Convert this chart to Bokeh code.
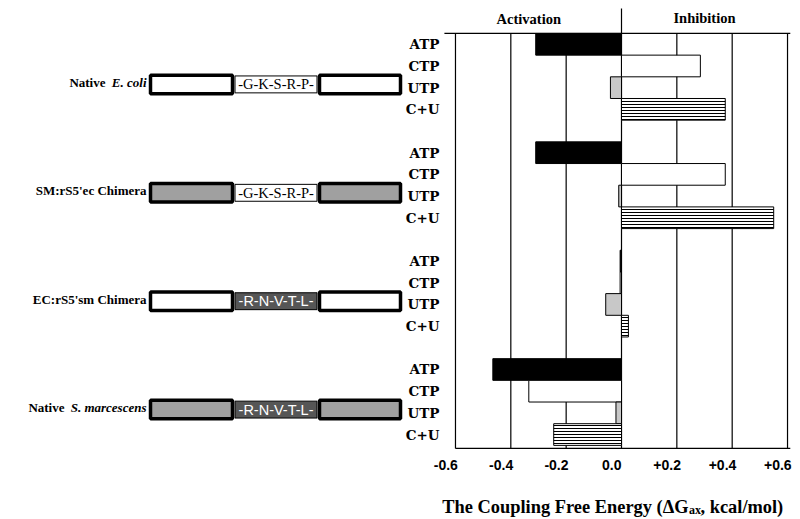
from bokeh.plotting import figure
from bokeh.models import Range1d
from bokeh.embed import file_html
from bokeh.resources import INLINE
from bokeh.core.properties import value

# ---------------- data ----------------
construct_roman = ["Native", "SM:rS5'ec Chimera", "EC:rS5'sm Chimera", "Native"]
construct_italic = ["E. coli", "", "", "S. marcescens"]
linker_seq = ["-G-K-S-R-P-", "-G-K-S-R-P-", "-R-N-V-T-L-", "-R-N-V-T-L-"]
flank_origin = ["ec", "sm", "ec", "sm"]
linker_origin = ["ec", "ec", "sm", "sm"]

nucleotides = ["ATP", "CTP", "UTP", "C+U"]
atp = [-0.31, -0.31, -0.005, -0.465]
ctp = [0.285, 0.375, -0.005, -0.335]
utp = [-0.04, -0.01, -0.057, -0.02]
cu = [0.375, 0.55, 0.025, -0.245]

x_ticks = [-0.6, -0.4, -0.2, 0.0, 0.2, 0.4, 0.6]
x_tick_labels = ["-0.6", "-0.4", "-0.2", "0.0", "+0.2", "+0.4", "+0.6"]
header_pos = [-0.335, 0.30]
header_labels = ["Activation", "Inhibition"]
title_parts = ["The Coupling Free Energy (\u0394G", "ax", ", kcal/mol)"]

GROUP_STEP = 5
groups = list(range(len(construct_roman)))
series = [atp, ctp, utp, cu]
n_rows = (len(groups) - 1) * GROUP_STEP + len(nucleotides)

# ---------------- layout constants ----------------
W, H = 800, 519
Y_TOP, Y_BOTTOM = -2.0203, 21.919        # row units at top/bottom of canvas
plot_top = -0.5
plot_bottom = n_rows - 0.5 + 0.14
top_overhang = 0.04
label_shift = -0.035

p = figure(width=W, height=H, x_range=Range1d(-2.2443, 0.6469),
           y_range=Range1d(Y_BOTTOM, Y_TOP), min_border=0,
           x_axis_location=None, y_axis_location=None,
           output_backend="svg", toolbar_location=None)
p.extra_x_ranges = {"px": Range1d(0, W)}
p.extra_y_ranges = {"py": Range1d(H, 0)}
p.outline_line_color = None
p.grid.visible = False
p.background_fill_color = "white"

# ---------------- bar chart frame and grid ----------------
LW = 1.2
p.segment(x0=[x_ticks[0] - top_overhang], y0=[plot_top], x1=[x_ticks[-1] + 0.01], y1=[plot_top],
          line_color="black", line_width=LW)
grid_x = x_ticks[1:]
p.segment(x0=grid_x, y0=[plot_top] * len(grid_x), x1=grid_x, y1=[plot_bottom] * len(grid_x),
          line_color="black", line_width=LW)
p.segment(x0=[x_ticks[0]], y0=[plot_top], x1=[x_ticks[0]], y1=[plot_bottom],
          line_color="black", line_width=LW)
p.segment(x0=[x_ticks[0]], y0=[plot_bottom], x1=[x_ticks[-1] + 0.01], y1=[plot_bottom],
          line_color="black", line_width=LW)
p.segment(x0=[0.0], y0=[plot_top - 1.15], x1=[0.0], y1=[plot_top], line_color="black",
          line_width=LW)

# bars
bar_styles = [
    dict(fill_color="black", line_color="black"),
    dict(fill_color="white", line_color="black"),
    dict(fill_color="#c8c8c8", line_color="black"),
    dict(fill_color="white", line_color="black", hatch_pattern="horizontal_line",
         hatch_color="black", hatch_scale=3, hatch_weight=1),
]
for k, vals in enumerate(series):
    ys = [g * GROUP_STEP + k for g in groups]
    p.hbar(y=ys, left=0, right=vals, height=1.0, line_width=1, **bar_styles[k])

# header
p.text(x=header_pos, y=[18, 17], y_range_name="py", text=header_labels, text_align="center",
       text_baseline="middle", text_font=value("Liberation Serif"), text_font_style="bold",
       text_font_size="14.5px", text_color="black")

# row (category) labels
row_pos = [g * GROUP_STEP + k for g in groups for k in range(len(nucleotides))]
row_lab = [nucleotides[k] for g in groups for k in range(len(nucleotides))]
p.text(x=[x_ticks[0]] * len(row_pos), y=row_pos, text=row_lab, x_offset=-16,
       text_align="right", text_baseline="middle", text_font=value("DejaVu Serif"),
       text_font_style="bold", text_font_size="13.5px", text_color="black")

# x tick labels
p.text(x=[t + label_shift for t in x_ticks], y=[464.5] * len(x_ticks), y_range_name="py",
       text=x_tick_labels, text_align="center", text_baseline="middle",
       text_font=value("Liberation Sans"), text_font_style="bold", text_font_size="14px",
       text_color="black")

# axis title (with subscript)
A = 688.0
p.text(x=[A], y=[506], x_range_name="px", y_range_name="py", text=[title_parts[0]],
       text_align="right", text_baseline="alphabetic", text_font=value("Liberation Serif"),
       text_font_style="bold", text_font_size="18.4px", text_color="black")
p.text(x=[A + 0.5], y=[509.5], x_range_name="px", y_range_name="py", text=[title_parts[1]],
       text_align="left", text_baseline="alphabetic", text_font=value("Liberation Serif"),
       text_font_style="bold", text_font_size="12px", text_color="black")
p.text(x=[A + 12], y=[506], x_range_name="px", y_range_name="py", text=[title_parts[2]],
       text_align="left", text_baseline="alphabetic", text_font=value("Liberation Serif"),
       text_font_style="bold", text_font_size="18.4px", text_color="black")

# ---------------- construct diagrams (left) ----------------
origin_fill = {"ec": "white", "sm": "#a0a0a0"}
linker_fill = {"ec": "white", "sm": "#565656"}
linker_text = {"ec": "black", "sm": "white"}
linker_font = {"ec": "Liberation Serif", "sm": "Liberation Sans"}
italic_px = [41, 0, 0, 82]

box_y = [g * GROUP_STEP + 1.85 for g in groups]
for g in groups:
    y = box_y[g]
    for cx, w in [(191, 82), (359.5, 81)]:
        p.rect(x=cx, y=y, width=w, height=0.853, x_range_name="px",
               fill_color=origin_fill[flank_origin[g]], line_color="black", line_width=3.5)
    p.rect(x=275.5, y=y, width=82, height=0.78, x_range_name="px",
           fill_color=linker_fill[linker_origin[g]], line_color="black", line_width=1)
    p.text(x=[275.5], y=[y], x_range_name="px", text=[linker_seq[g]], text_align="center",
           text_baseline="middle", text_font=value(linker_font[linker_origin[g]]),
           text_font_size="14.5px", text_color=linker_text[linker_origin[g]])
    p.text(x=[146 - italic_px[g]], y=[y - 0.1], x_range_name="px", text=[construct_roman[g]],
           text_align="right", text_baseline="middle", text_font=value("Liberation Serif"),
           text_font_style="bold", text_font_size="13px", text_color="black")
    if construct_italic[g]:
        p.text(x=[146], y=[y - 0.1], x_range_name="px", text=[construct_italic[g]],
               text_align="right", text_baseline="middle", text_font=value("Liberation Serif"),
               text_font_style="bold italic", text_font_size="13px", text_color="black")

open("out.html", "w").write(file_html(p, INLINE))
